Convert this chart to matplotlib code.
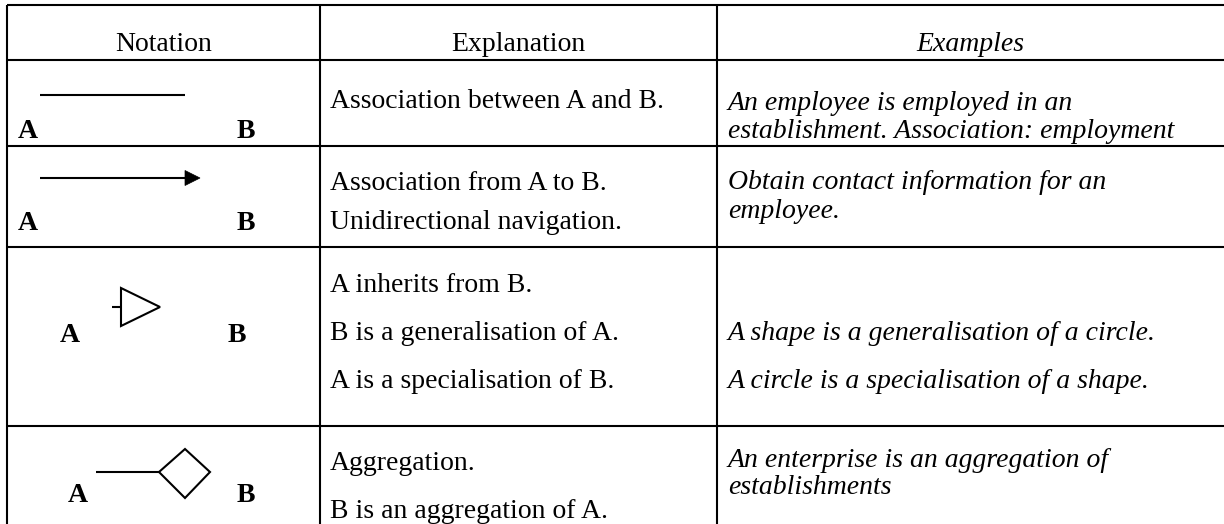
import matplotlib
matplotlib.use("Agg")
import matplotlib.pyplot as plt
from matplotlib.patches import Polygon

# ---- table content ----
headers = ["Notation", "Explanation", "Examples"]
explanations = [
    ["Association between A and B."],
    ["Association from A to B.", "Unidirectional navigation."],
    ["A inherits from B.", "B is a generalisation of A.", "A is a specialisation of B."],
    ["Aggregation.", "B is an aggregation of A."],
]
examples = [
    ["An employee is employed in an", "establishment. Association: employment"],
    ["Obtain contact information for an", "employee."],
    ["", "A shape is a generalisation of a circle.", "A circle is a specialisation of a shape."],
    ["An enterprise is an aggregation of", "establishments"],
]
end_labels = ["A", "B"]

# ---- layout (pixel coordinates) ----
W, H = 1224, 524
fig = plt.figure(figsize=(W / 100, H / 100), dpi=100)
ax = fig.add_axes([0, 0, 1, 1])
ax.set_xlim(0, W)
ax.set_ylim(H, 0)
ax.axis("off")

FONT = "Liberation Serif"
FS = 20
LW = 1.5

x_left, x_sep1, x_sep2 = 7, 320, 717
row_lines = [5, 60, 146, 247, 426]

# grid lines
for y in row_lines:
    ax.plot([x_left, W], [y, y], color="black", lw=LW, solid_capstyle="butt")
for x in (x_left, x_sep1, x_sep2):
    ax.plot([x, x], [row_lines[0], H], color="black", lw=LW, solid_capstyle="butt")

# header
hdr_x = [(x_left + x_sep1) / 2, (x_sep1 + x_sep2) / 2, (x_sep2 + W) / 2]
for i, (hx, h) in enumerate(zip(hdr_x, headers)):
    ax.text(hx, 51, h, ha="center", va="baseline", fontsize=FS, family=FONT,
            style="italic" if i == 2 else "normal")

# explanation column
expl_baselines = [[108], [190, 229], [292, 340, 388], [470, 518]]
for lines, ys in zip(explanations, expl_baselines):
    for t, y in zip(lines, ys):
        ax.text(330, y, t, ha="left", va="baseline", fontsize=FS, family=FONT)

# examples column
ex_baselines = [[110, 138], [189, 218], [292, 340, 388], [467, 494]]
for lines, ys in zip(examples, ex_baselines):
    for t, y in zip(lines, ys):
        if t:
            ax.text(728, y, t, ha="left", va="baseline", fontsize=FS, family=FONT,
                    style="italic")

# notation column: A / B labels
ab_pos = [((18, 138), (237, 138)), ((18, 230), (237, 230)),
          ((60, 342), (228, 342)), ((68, 502), (237, 502))]
for (pa, pb) in ab_pos:
    ax.text(pa[0], pa[1], end_labels[0], ha="left", va="baseline", fontsize=FS,
            family=FONT, weight="bold")
    ax.text(pb[0], pb[1], end_labels[1], ha="left", va="baseline", fontsize=FS,
            family=FONT, weight="bold")

# row 1: plain association line
ax.plot([40, 185], [95, 95], color="black", lw=LW, solid_capstyle="butt")

# row 2: navigable association
ax.plot([40, 187], [178, 178], color="black", lw=LW, solid_capstyle="butt")
ax.add_patch(Polygon([(185, 170.5), (200, 178), (185, 185.5)], closed=True,
                     facecolor="black", edgecolor="black", lw=0.5))

# row 3: generalisation triangle
ax.plot([112, 121], [307, 307], color="black", lw=LW, solid_capstyle="butt")
ax.add_patch(Polygon([(121, 288), (121, 326), (160, 307)], closed=True,
                     facecolor="white", edgecolor="black", lw=LW, joinstyle="miter"))

# row 4: aggregation diamond
ax.plot([96, 159], [472, 472], color="black", lw=LW, solid_capstyle="butt")
ax.add_patch(Polygon([(159, 472), (185, 449), (210, 472), (185, 498)], closed=True,
                     facecolor="white", edgecolor="black", lw=LW, joinstyle="miter"))

fig.savefig("out.png", dpi=100, facecolor="white")
